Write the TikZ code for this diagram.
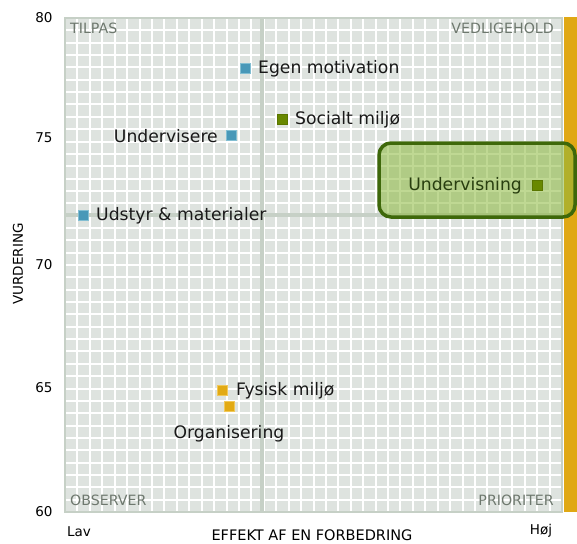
\documentclass[tikz,border=0pt]{standalone}
\usepackage{fontspec}
\setmainfont{DejaVu Sans}
\definecolor{gridbg}{RGB}{222,227,223}
\definecolor{bordercol}{RGB}{198,208,198}
\definecolor{quadtxt}{RGB}{110,120,110}
\definecolor{bluem}{RGB}{72,152,184}
\definecolor{bluemb}{RGB}{130,190,210}
\definecolor{greenm}{RGB}{104,136,0}
\definecolor{greenmb}{RGB}{90,118,0}
\definecolor{goldm}{RGB}{226,170,20}
\definecolor{goldmb}{RGB}{240,200,90}
\definecolor{orangebar}{RGB}{224,168,20}
\definecolor{boxline}{RGB}{62,104,10}
\definecolor{boxfill}{RGB}{140,184,60}
\definecolor{boxtext}{RGB}{40,62,15}
\tikzset{
  gridline/.style={draw=white, line width=2pt},
  centerline/.style={draw=bordercol, line width=3.5pt},
  marker/.style={minimum size=10pt, inner sep=0pt, line width=1pt},
  mblue/.style={marker, fill=bluem, draw=bluemb},
  mgreen/.style={marker, fill=greenm, draw=greenmb},
  mgold/.style={marker, fill=goldm, draw=goldmb},
  lbl/.style={font=\fontsize{17.2}{20}\selectfont, inner sep=0pt, text=black!90},
  quad/.style={font=\fontsize{14.2}{16}\selectfont, inner sep=0pt, text=quadtxt},
  tick/.style={font=\fontsize{13.5}{16}\selectfont, inner sep=0pt},
  axlbl/.style={font=\fontsize{14.5}{16}\selectfont, inner sep=0pt},
}
\begin{document}
\begin{tikzpicture}[x=1pt,y=-1pt]
\useasboundingbox (0,0) rectangle (577,543);
% plot background and grid
\fill[gridbg] (65,18) rectangle (562,512);
\foreach \i in {1,...,39} {
  \draw[gridline] ({65+\i*12.425},18) -- ++(0,494);
  \draw[gridline] (65,{18+\i*12.35}) -- ++(497,0);
}
\draw[centerline] (65,215) -- (562,215);
\draw[centerline] (262,18) -- (262,512);
\draw[draw=bordercol, line width=2.5pt] (65,18) rectangle (562,512);
% orange bar
\fill[orangebar] (564,17) rectangle (577,512);
% highlight box
\draw[draw=boxline, line width=3.5pt, fill=boxfill, fill opacity=0.55, rounded corners=12pt] (379,143) rectangle (575,217);
% quadrant labels
\node[quad, anchor=north west] (q1) at (70,23) {TILPAS};
\node[quad, anchor=north east] (q2) at (554,23) {VEDLIGEHOLD};
\node[quad, anchor=south west] (q3) at (70,506) {OBSERVER};
\node[quad, anchor=south east] (q4) at (554,506) {PRIORITER};
% ticks
\node[tick] (t80) at (44,18) {80};
\node[tick] (t75) at (44,138) {75};
\node[tick] (t70) at (44,265) {70};
\node[tick] (t65) at (44,388) {65};
\node[tick] (t60) at (44,512) {60};
\node[axlbl, rotate=90, font=\fontsize{13.5}{16}\selectfont] (yl) at (18,264) {VURDERING};
\node[axlbl] (xl) at (312,535) {EFFEKT AF EN FORBEDRING};
\node[tick] (lav) at (79,532) {Lav};
\node[tick] (hoj) at (541,531) {Høj};
% markers and labels
\node[mblue] (m1) at (245,68) {};
\node[lbl, anchor=west] (l1) at (258,69) {Egen motivation};
\node[mgreen] (m2) at (282,119) {};
\node[lbl, anchor=west] (l2) at (295,120) {Socialt miljø};
\node[mblue] (m3) at (231,135) {};
\node[lbl, anchor=east] (l3) at (218,136) {Undervisere};
\node[mblue] (m4) at (83,215) {};
\node[lbl, anchor=west] (l4) at (96,216) {Udstyr \& materialer};
\node[mgreen] (m5) at (537,185) {};
\node[lbl, anchor=east, text=boxtext] (l5) at (522,186) {Undervisning};
\node[mgold] (m6) at (222,390) {};
\node[lbl, anchor=west] (l6) at (236,391) {Fysisk miljø};
\node[mgold] (m7) at (229,406) {};
\node[lbl] (l7) at (229,434) {Organisering};
\end{tikzpicture}
\end{document}
